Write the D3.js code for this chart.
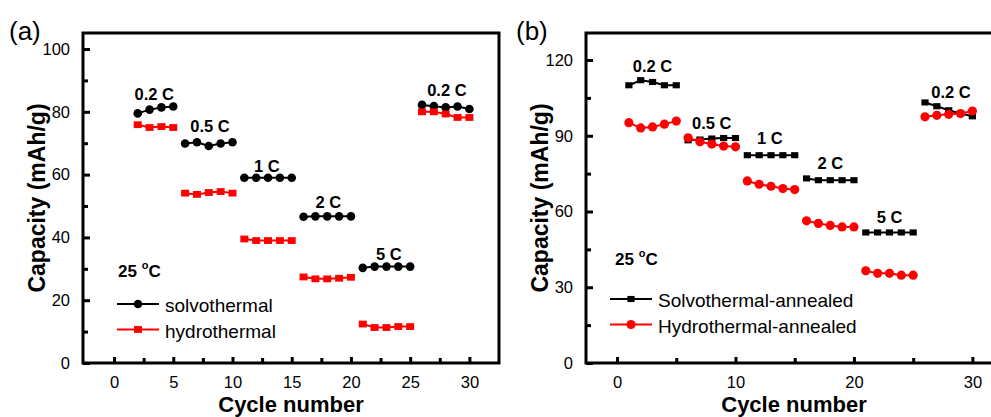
<!DOCTYPE html>
<html><head><meta charset="utf-8">
<script src="https://cdn.jsdelivr.net/npm/d3@7"></script>
<style>
html,body{margin:0;padding:0;background:#fff;}
svg{display:block;font-family:"Liberation Sans",Arial,sans-serif;}
</style></head>
<body>
<svg id="chart" width="991" height="417"></svg>
<script>
// ---------- DATA ----------
const cycles = d3.range(1, 31);
// panel (a) capacity, mAh/g (null = no point)
const solvothermal = [null, 79.5, 80.7, 81.4, 81.7,
  69.9, 70.3, 69.1, 69.9, 70.3,
  59.0, 59.0, 59.0, 59.0, 59.0,
  46.6, 46.7, 46.7, 46.7, 46.7,
  30.3, 30.7, 30.7, 30.7, 30.7,
  82.2, 81.8, 81.4, 81.7, 80.9];
const hydrothermal = [null, 75.9, 75.0, 75.3, 75.0,
  54.1, 53.7, 54.3, 54.6, 54.1,
  39.5, 39.0, 39.0, 39.0, 39.0,
  27.4, 26.8, 26.8, 27.0, 27.3,
  12.4, 11.3, 11.3, 11.6, 11.6,
  80.0, 80.0, 79.3, 78.2, 78.2];
// panel (b)
const solvoAnnealed = [110.0, 112.0, 111.3, 110.0, 110.0,
  88.2, 88.5, 88.9, 89.1, 89.1,
  82.3, 82.3, 82.3, 82.3, 82.3,
  73.1, 72.4, 72.4, 72.4, 72.4,
  51.7, 51.7, 51.7, 51.7, 51.7,
  103.2, 101.7, 100.1, 98.8, 97.7];
const hydroAnnealed = [95.2, 93.1, 93.5, 94.6, 95.8,
  89.2, 87.6, 86.7, 85.9, 85.6,
  72.1, 70.8, 70.0, 69.1, 68.7,
  56.3, 55.3, 54.5, 53.9, 53.9,
  36.5, 35.5, 35.5, 34.8, 34.8,
  97.5, 98.1, 98.5, 98.8, 99.8];
const rateLabels = ["0.2 C", "0.5 C", "1 C", "2 C", "5 C", "0.2 C"];
// label anchors in data units (cycle, capacity)
const rateAnchorsA = [[3.4, 83.8], [8.1, 73.6], [12.9, 60.8], [18.1, 49.4], [23.2, 32.8], [28.1, 84.9]];
const rateAnchorsB = [[3.0, 115.2], [8.0, 92.7], [12.9, 86.7], [18.0, 76.8], [23.0, 55.4], [28.2, 104.9]];
const tempAnchorA = [0.34, 27.4];
const tempAnchorB = [-0.17, 38.8];
const xTicksA = [0, 5, 10, 15, 20, 25, 30];
const xMinorA = [2.5, 7.5, 12.5, 17.5, 22.5, 27.5];
const yTicksA = [0, 20, 40, 60, 80, 100];
const yMinorA = [10, 30, 50, 70, 90];
const xTicksB = [0, 10, 20, 30];
const xMinorB = [5, 15, 25];
const yTicksB = [0, 30, 60, 90, 120];
const yMinorB = [15, 45, 75, 105];

// ---------- DRAW ----------
const svg = d3.select("#chart");
const FONT = '"Liberation Sans",Arial,sans-serif';

function panel(cfg) {
  const g = svg.append("g");
  const x = d3.scaleLinear().domain([-2.62, 32.5]).range([cfg.left, cfg.right]);
  const y = d3.scaleLinear().domain([0, cfg.ymax]).range([cfg.bottom, cfg.top]);

  // axes ticks (inside)
  const bottomAx = d3.axisBottom(x).tickValues(cfg.xTicks).tickSize(-7).tickSizeOuter(0).tickPadding(13).tickFormat(d3.format("d"));
  const leftAx = d3.axisLeft(y).tickValues(cfg.yTicks).tickSize(-7).tickSizeOuter(0).tickPadding(13).tickFormat(d3.format("d"));
  const bx = g.append("g").attr("transform", `translate(0,${cfg.bottom})`).call(bottomAx);
  const ly = g.append("g").attr("transform", `translate(${cfg.left},0)`).call(leftAx);
  [bx, ly].forEach(a => {
    a.select(".domain").remove();
    a.selectAll(".tick line").attr("stroke", "#000").attr("stroke-width", 3);
    a.selectAll(".tick text").attr("font-family", FONT).attr("font-size", 16.5).attr("fill", "#000");
  });
  bx.selectAll(".tick line").attr("y2", -6);
  // minor ticks
  g.append("g").attr("transform", `translate(0,${cfg.bottom})`)
    .call(d3.axisBottom(x).tickValues(cfg.xMinor).tickSize(-5).tickFormat(""))
    .call(a => a.select(".domain").remove())
    .selectAll(".tick line").attr("stroke", "#000").attr("stroke-width", 3);
  g.append("g").attr("transform", `translate(${cfg.left},0)`)
    .call(d3.axisLeft(y).tickValues(cfg.yMinor).tickSize(-5).tickFormat(""))
    .call(a => a.select(".domain").remove())
    .selectAll(".tick line").attr("stroke", "#000").attr("stroke-width", 3);

  // frame
  g.append("rect").attr("x", cfg.left).attr("y", cfg.top)
    .attr("width", cfg.right - cfg.left).attr("height", cfg.bottom - cfg.top)
    .attr("fill", "none").attr("stroke", "#000").attr("stroke-width", 3);

  // series
  const line = d3.line().x(d => x(d.c)).y(d => y(d.v));
  cfg.series.forEach(s => {
    const pts = cycles.map((c, i) => ({ c, v: s.values[i], b: Math.floor((c - 1) / 5) }))
      .filter(d => d.v != null);
    const blocks = d3.groups(pts, d => d.b).map(d => d[1]);
    const sg = g.append("g");
    sg.selectAll("path.seg").data(blocks).join("path").attr("class", "seg")
      .attr("d", line).attr("fill", "none").attr("stroke", s.color).attr("stroke-width", 2);
    drawMarkers(sg, pts.map(d => [x(d.c), y(d.v)]), s);
  });

  // rate labels
  g.selectAll("text.rate").data(rateLabels).join("text").attr("class", "rate")
    .attr("x", (d, i) => x(cfg.anchors[i][0])).attr("y", (d, i) => y(cfg.anchors[i][1]))
    .attr("text-anchor", "middle").attr("font-family", FONT).attr("font-weight", "bold")
    .attr("font-size", 16.5).text(d => d);

  // temperature
  const t = g.append("text").attr("x", x(cfg.temp[0])).attr("y", y(cfg.temp[1]))
    .attr("font-family", FONT).attr("font-weight", "bold").attr("font-size", 17);
  t.append("tspan").text("25 ");
  t.append("tspan").attr("font-size", 11).attr("dy", -8).text("o");
  t.append("tspan").attr("dy", 8).text("C");

  // legend
  cfg.series.forEach((s, i) => {
    const ly0 = cfg.legY + i * 25.5;
    g.append("line").attr("x1", cfg.legX).attr("x2", cfg.legX + 42)
      .attr("y1", ly0).attr("y2", ly0).attr("stroke", s.color).attr("stroke-width", 2);
    drawMarkers(g, [[cfg.legX + 21, ly0]], s);
    g.append("text").attr("x", cfg.legX + 48).attr("y", ly0 + 8)
      .attr("font-family", FONT).attr("font-size", 19).text(s.name);
  });

  // axis titles
  g.append("text").attr("x", (cfg.left + cfg.right) / 2).attr("y", 412)
    .attr("text-anchor", "middle").attr("font-family", FONT).attr("font-weight", "bold")
    .attr("font-size", 22).text("Cycle number");
  g.append("text").attr("transform", `translate(${cfg.left - 38},${(cfg.top + cfg.bottom) / 2}) rotate(-90)`)
    .attr("text-anchor", "middle").attr("font-family", FONT).attr("font-weight", "bold")
    .attr("font-size", 23).text("Capacity (mAh/g)");
  // panel letter
  svg.append("text").attr("x", cfg.letterX).attr("y", 40)
    .attr("font-family", FONT).attr("font-size", 26).text(cfg.letter);
}

function drawMarkers(sel, pts, s) {
  if (s.shape === "circle") {
    sel.selectAll(null).data(pts).join("circle")
      .attr("cx", d => d[0]).attr("cy", d => d[1]).attr("r", s.size).attr("fill", s.color);
  } else {
    sel.selectAll(null).data(pts).join("rect")
      .attr("x", d => d[0] - s.size).attr("y", d => d[1] - s.size * 0.85)
      .attr("width", s.size * 2).attr("height", s.size * 1.7).attr("fill", s.color);
  }
}

panel({
  name: "a", letter: "(a)", letterX: 9,
  left: 83, right: 499, top: 33, bottom: 363, ymax: 105.1,
  xTicks: xTicksA, xMinor: xMinorA, yTicks: yTicksA, yMinor: yMinorA,
  anchors: rateAnchorsA, temp: tempAnchorA, legX: 117, legY: 304,
  series: [
    { name: "solvothermal", values: solvothermal, color: "#000000", shape: "circle", size: 4.3 },
    { name: "hydrothermal", values: hydrothermal, color: "#ff0000", shape: "square", size: 4.0 }
  ]
});
panel({
  name: "b", letter: "(b)", letterX: 516,
  left: 586, right: 1002, top: 33, bottom: 363, ymax: 130.7,
  xTicks: xTicksB, xMinor: xMinorB, yTicks: yTicksB, yMinor: yMinorB,
  anchors: rateAnchorsB, temp: tempAnchorB, legX: 610, legY: 299,
  series: [
    { name: "Solvothermal-annealed", values: solvoAnnealed, color: "#000000", shape: "square", size: 3.6 },
    { name: "Hydrothermal-annealed", values: hydroAnnealed, color: "#ff0000", shape: "circle", size: 4.6 }
  ]
});
</script>
</body></html>
